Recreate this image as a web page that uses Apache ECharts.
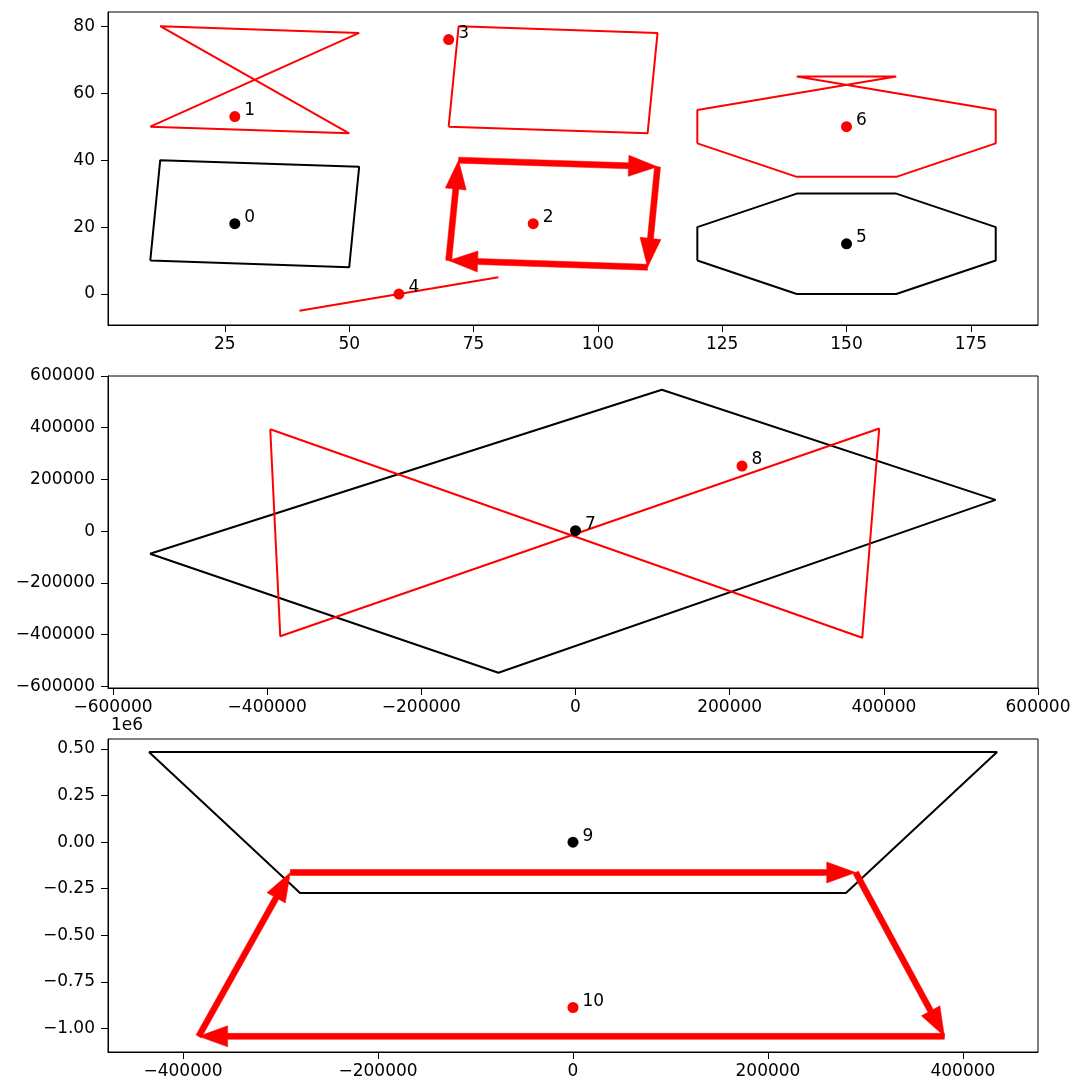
<!DOCTYPE html>
<html><head><meta charset="utf-8">
<script src="https://cdn.jsdelivr.net/npm/echarts@6/dist/echarts.min.js"></script>
<style>html,body{margin:0;padding:0;background:#fff}#c{width:1078px;height:1084px}</style>
</head><body><div id="c"></div>
<script>
// ---------- DATA ----------
// Top panel
const topShape0 = [[10,10],[12,40],[52,38],[50,8],[10,10]];            // black
const topShape1 = [[10,50],[50,48],[12,80],[52,78],[10,50]];            // red bowtie
const topArrowPath = [[70,10],[72,40],[112,38],[110,8],[70,10]];        // red arrows
const topShape3 = [[70,50],[72,80],[112,78],[110,48],[70,50]];          // red
const topShape4 = [[40,-5],[80,5]];                                     // red line
const topShape5 = [[120,10],[120,20],[140,30],[160,30],[180,20],[180,10],[160,0],[140,0],[120,10]]; // black
const topShape6 = [[120,45],[120,55],[160,65],[140,65],[180,55],[180,45],[160,35],[140,35],[120,45]]; // red
const topPoints = [[27,21],[27,53],[87,21],[70,76],[60,0],[150,15],[150,50]];
const topPointIds = ['0','1','2','3','4','5','6'];
const topPointKinds = ['k','r','r','r','r','k','r'];
const topXTicks = [25,50,75,100,125,150,175];
const topYTicks = [0,20,40,60,80];

// Middle panel
const midShapeBlack = [[-552000,-87000],[112000,547000],[545000,121000],[-100000,-547000],[-552000,-87000]];
const midShapeRed = [[-396000,394000],[-383000,-406000],[394000,397000],[372000,-412000],[-396000,394000]];
const midPoints = [[0,2000],[216000,252000]];
const midPointIds = ['7','8'];
const midPointKinds = ['k','r'];
const midXTicks = [-600000,-400000,-200000,0,200000,400000,600000];
const midYTicks = [-600000,-400000,-200000,0,200000,400000,600000];

// Bottom panel
const botShapeBlack = [[-435000,484000],[435000,484000],[280000,-273000],[-280000,-273000],[-435000,484000]];
const botArrowPath = [[-290000,-163000],[290000,-163000],[381000,-1043000],[-384000,-1043000],[-290000,-163000]];
const botPoints = [[0,0],[0,-888000]];
const botPointIds = ['9','10'];
const botPointKinds = ['k','r'];
const botXTicks = [-400000,-200000,0,200000,400000];
const botYTicks = [-1000000,-750000,-500000,-250000,0,250000,500000];

// ---------- CHART ----------
const FONT = 'DejaVu Sans';
const RED = '#ff0000', BLACK = '#000000';
const colorOf = k => (k === 'r' ? RED : BLACK);
const minus = s => s.replace('-', '\u2212');
const fmtInt = v => minus(String(v));
const fmt6 = v => minus((v / 1e6).toFixed(2));

function makeAxis(gridIndex, min, max, ticks, fmt, isX) {
  return {
    type: 'value', gridIndex, min, max, scale: true,
    splitLine: { show: false },
    axisLine: { show: true, onZero: false, lineStyle: { color: '#000', width: 1 } },
    axisTick: { show: true, length: 7, inside: false, customValues: ticks, lineStyle: { color: '#000', width: 1 } },
    axisLabel: { customValues: ticks, formatter: fmt, fontFamily: FONT, fontSize: 17, color: '#000', margin: isX ? 11 : 13 }
  };
}

function poly(data, color, idx) {
  return { type: 'line', xAxisIndex: idx, yAxisIndex: idx, data, symbol: 'none', showSymbol: false,
    lineStyle: { color, width: 2, opacity: 1 }, animation: false, silent: true, z: 2 };
}

function segments(path) {
  const out = [];
  for (let i = 0; i < path.length - 1; i++) out.push([path[i][0], path[i][1], path[i+1][0], path[i+1][1]]);
  return out;
}

function arrows(path, idx) {
  return {
    type: 'custom', xAxisIndex: idx, yAxisIndex: idx, data: segments(path),
    encode: { x: [0, 2], y: [1, 3] }, animation: false, silent: true, z: 3,
    renderItem: function (params, api) {
      const a = api.coord([api.value(0), api.value(1)]);
      const b = api.coord([api.value(2), api.value(3)]);
      const dx = b[0] - a[0], dy = b[1] - a[1];
      const len = Math.hypot(dx, dy);
      const ux = dx / len, uy = dy / len, nx = -uy, ny = ux;
      const hl = 29, hw = 10.5, sw = 3;
      const bx = b[0] - ux * hl, by = b[1] - uy * hl;
      const pts = [
        [a[0] + nx * sw, a[1] + ny * sw],
        [bx + nx * sw, by + ny * sw],
        [bx + nx * hw, by + ny * hw],
        [b[0], b[1]],
        [bx - nx * hw, by - ny * hw],
        [bx - nx * sw, by - ny * sw],
        [a[0] - nx * sw, a[1] - ny * sw]
      ];
      return { type: 'polygon', shape: { points: pts }, style: { fill: RED, stroke: RED, lineWidth: 0.5 } };
    }
  };
}

function points(coords, ids, kinds, idx) {
  return {
    type: 'scatter', xAxisIndex: idx, yAxisIndex: idx, symbolSize: 11, animation: false, z: 5,
    itemStyle: { opacity: 1 },
    data: coords.map((c, i) => ({
      value: c, name: ids[i], itemStyle: { color: colorOf(kinds[i]), opacity: 1 }
    })),
    label: { show: true, position: 'right', distance: 4, offset: [0, -6], formatter: p => p.name,
      fontFamily: FONT, fontSize: 17, color: '#000', opacity: 1 }
  };
}

const chart = echarts.init(document.getElementById('c'), null, { renderer: 'canvas' });
chart.setOption({
  backgroundColor: '#fff',
  animation: false,
  grid: [
    { left: 108, top: 12, width: 930, height: 313, show: true, borderColor: '#000', borderWidth: 1 },
    { left: 108, top: 376, width: 930, height: 312, show: true, borderColor: '#000', borderWidth: 1 },
    { left: 108, top: 739, width: 930, height: 313, show: true, borderColor: '#000', borderWidth: 1 }
  ],
  xAxis: [
    makeAxis(0, 1.5, 188.5, topXTicks, fmtInt, true),
    makeAxis(1, -606500, 600000, midXTicks, fmtInt, true),
    makeAxis(2, -477000, 477000, botXTicks, fmtInt, true)
  ],
  yAxis: [
    makeAxis(0, -9.25, 84.25, topYTicks, fmtInt, false),
    makeAxis(1, -606000, 600000, midYTicks, fmtInt, false),
    makeAxis(2, -1127000, 554000, botYTicks, fmt6, false)
  ],
  graphic: [
    { type: 'text', left: 111, top: 717, style: { text: '1e6', fontFamily: FONT, fontSize: 17, fill: '#000' } }
  ],
  series: [
    poly(topShape0, BLACK, 0),
    poly(topShape1, RED, 0),
    arrows(topArrowPath, 0),
    poly(topShape3, RED, 0),
    poly(topShape4, RED, 0),
    poly(topShape5, BLACK, 0),
    poly(topShape6, RED, 0),
    points(topPoints, topPointIds, topPointKinds, 0),
    poly(midShapeBlack, BLACK, 1),
    poly(midShapeRed, RED, 1),
    points(midPoints, midPointIds, midPointKinds, 1),
    poly(botShapeBlack, BLACK, 2),
    arrows(botArrowPath, 2),
    points(botPoints, botPointIds, botPointKinds, 2)
  ]
});
</script></body></html>
